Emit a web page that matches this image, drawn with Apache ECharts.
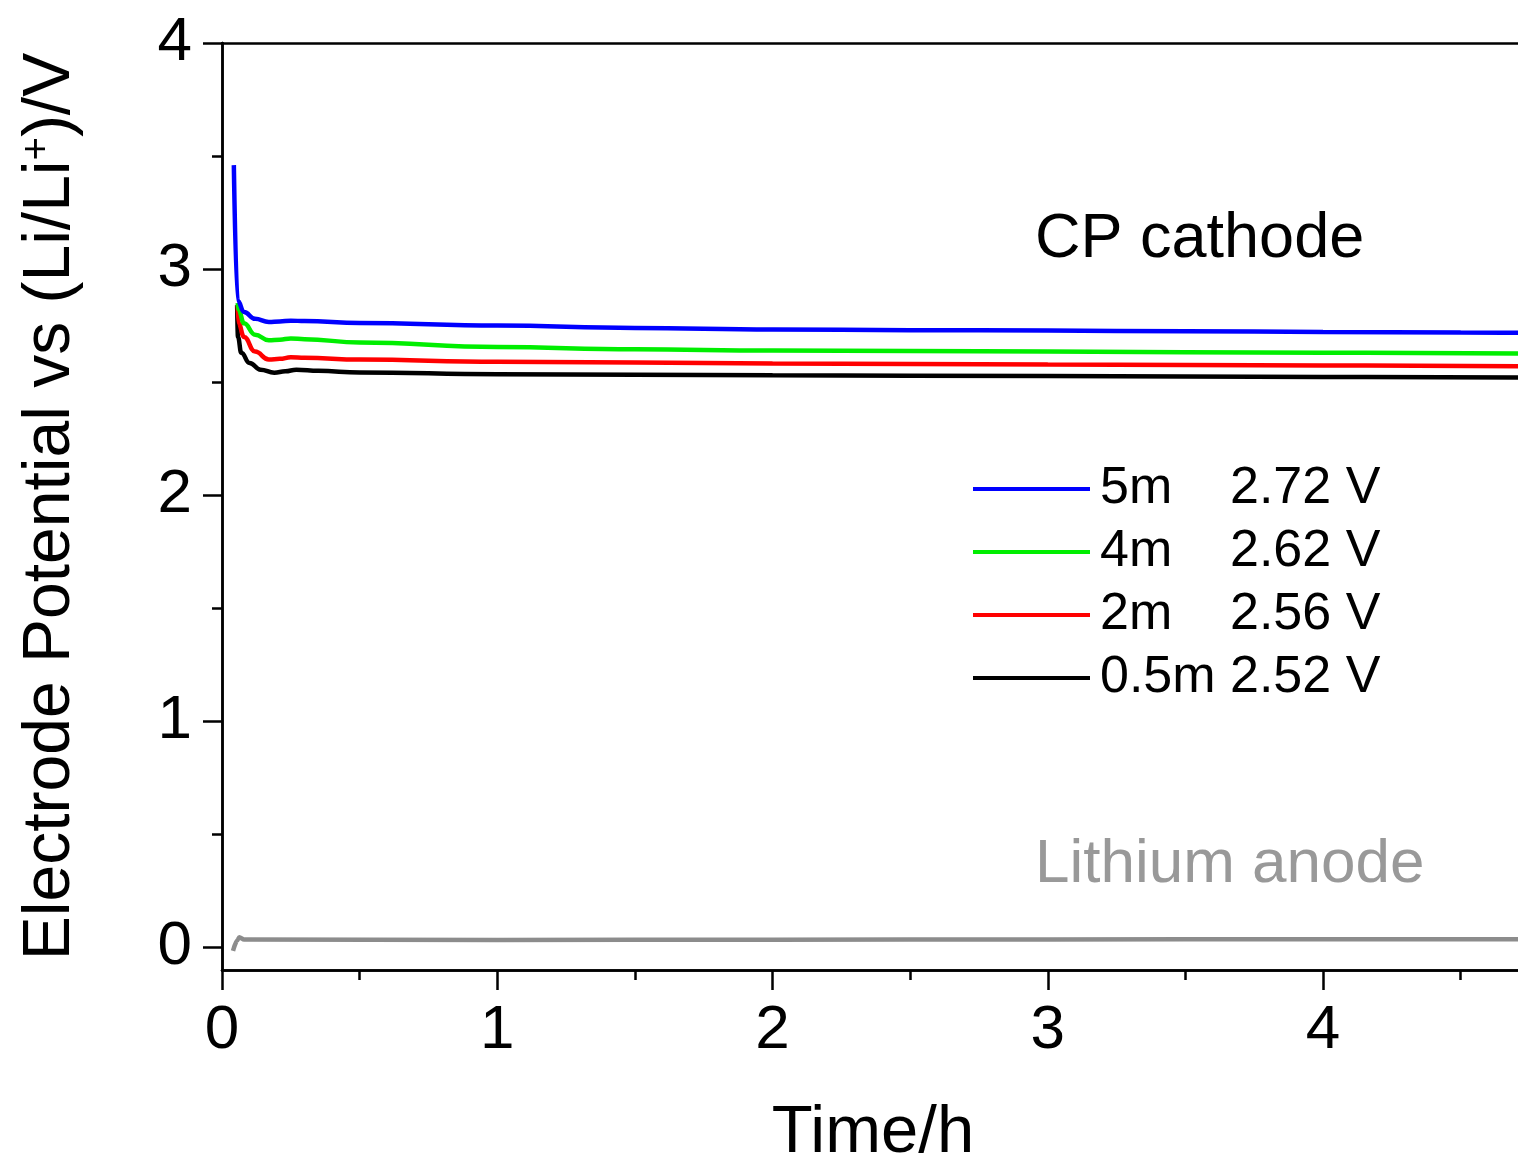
<!DOCTYPE html>
<html>
<head>
<meta charset="utf-8">
<script src="https://cdn.jsdelivr.net/npm/echarts@6/dist/echarts.min.js"></script>
<style>
html,body{margin:0;padding:0;background:#fff;}
#chart{width:1518px;height:1166px;}
</style>
</head>
<body>
<div id="chart"></div>
<script>
// ---- data ----
const seriesNames = ['5m', '4m', '2m', '0.5m'];
const plateauLabels = ['2.72 V', '2.62 V', '2.56 V', '2.52 V'];
const seriesColors = ['#0000ff', '#00ee00', '#ff0000', '#000000'];

const t5m = [0.043, 0.057, 0.08, 0.12, 0.17, 0.21, 0.25, 0.3, 0.5, 1, 1.5, 2, 2.5, 3, 3.5, 4, 4.5, 4.73];
const v5m = [3.46, 2.86, 2.81, 2.78, 2.766, 2.768, 2.772, 2.77, 2.762, 2.75, 2.74, 2.733, 2.73, 2.728, 2.725, 2.722, 2.72, 2.718];

const t4m = [0.057, 0.06, 0.08, 0.12, 0.17, 0.21, 0.25, 0.3, 0.5, 1, 1.5, 2, 3, 4, 4.73];
const v4m = [2.85, 2.82, 2.76, 2.71, 2.685, 2.688, 2.693, 2.69, 2.675, 2.655, 2.645, 2.64, 2.635, 2.63, 2.627];

const t2m = [0.057, 0.06, 0.08, 0.12, 0.17, 0.21, 0.25, 0.3, 0.5, 1, 2, 3, 4, 4.73];
const v2m = [2.84, 2.76, 2.70, 2.635, 2.60, 2.603, 2.61, 2.608, 2.60, 2.59, 2.583, 2.578, 2.574, 2.57];

const t05m = [0.055, 0.058, 0.07, 0.10, 0.14, 0.19, 0.23, 0.27, 0.35, 0.5, 1, 2, 3, 4, 4.73];
const v05m = [2.84, 2.70, 2.63, 2.585, 2.555, 2.542, 2.548, 2.555, 2.55, 2.543, 2.535, 2.53, 2.527, 2.523, 2.52];

const tLi = [0.04, 0.055, 0.063, 0.08, 1, 2, 3, 4, 4.73];
const vLi = [-0.015, 0.03, 0.045, 0.035, 0.033, 0.034, 0.035, 0.036, 0.036];

const xMajorTicks = [0, 1, 2, 3, 4];
const xMinorTicks = [0.5, 1.5, 2.5, 3.5, 4.5];
const yMajorTicks = [0, 1, 2, 3, 4];
const yMinorTicks = [0.5, 1.5, 2.5, 3.5];

const xMin = 0, xMax = 4.73, yMin = -0.1, yMax = 4;

// ---- chart ----
const FONT = 'Liberation Sans, Arial, sans-serif';
const zip = (a, b) => a.map((x, i) => [x, b[i]]);
const curves = [zip(t5m, v5m), zip(t4m, v4m), zip(t2m, v2m), zip(t05m, v05m)];

const axisLine = { show: true, onZero: false, lineStyle: { color: '#000', width: 2.5 } };

const series = curves.map((d, i) => ({
  name: seriesNames[i],
  type: 'line',
  data: d,
  symbol: 'none',
  smooth: 0.45,
  smoothMonotone: 'x',
  z: 10 - i,
  lineStyle: { color: seriesColors[i], width: 4.5 },
  itemStyle: { color: seriesColors[i] }
}));
series.push({
  name: 'Lithium',
  type: 'line',
  data: zip(tLi, vLi),
  symbol: 'none',
  smooth: 0.3,
  smoothMonotone: 'x',
  lineStyle: { color: '#8c8c8c', width: 4.5 },
  itemStyle: { color: '#8c8c8c' }
});

const chart = echarts.init(document.getElementById('chart'));
chart.setOption({
  animation: false,
  backgroundColor: '#fff',
  grid: { left: 222, top: 43, bottom: 196, right: -6, containLabel: false, outerBoundsMode: 'none' },
  xAxis: [
    {
      type: 'value', min: xMin, max: xMax, position: 'bottom',
      axisLine: axisLine,
      axisTick: { show: true, inside: false, length: 20, lineStyle: { color: '#000', width: 2.5 }, customValues: xMajorTicks },
      axisLabel: { show: true, customValues: xMajorTicks, fontSize: 62, fontFamily: FONT, color: '#000', margin: 30 },
      splitLine: { show: false },
      name: 'Time/h', nameLocation: 'middle', nameGap: 130,
      nameTextStyle: { fontSize: 67, fontFamily: FONT, color: '#000' }
    },
    {
      type: 'value', min: xMin, max: xMax, position: 'bottom',
      axisLine: axisLine,
      axisTick: { show: true, inside: false, length: 10, lineStyle: { color: '#000', width: 2.5 }, customValues: xMinorTicks },
      axisLabel: { show: false },
      splitLine: { show: false }
    },
    {
      type: 'value', min: xMin, max: xMax, position: 'top',
      axisLine: axisLine,
      axisTick: { show: false },
      axisLabel: { show: false },
      splitLine: { show: false }
    }
  ],
  yAxis: [
    {
      type: 'value', min: yMin, max: yMax, position: 'left',
      axisLine: axisLine,
      axisTick: { show: true, inside: false, length: 19, lineStyle: { color: '#000', width: 2.5 }, customValues: yMajorTicks },
      axisLabel: { show: true, customValues: yMajorTicks, fontSize: 62, fontFamily: FONT, color: '#000', margin: 30 },
      splitLine: { show: false },
      name: 'Electrode Potential vs (Li/Li{sup|+})/V',
      nameLocation: 'middle', nameGap: 138, nameRotate: 90,
      nameTextStyle: {
        fontSize: 66, fontFamily: FONT, color: '#000',
        rich: { sup: { fontSize: 40, fontFamily: FONT, color: '#000', verticalAlign: 'top', lineHeight: 46 } }
      }
    },
    {
      type: 'value', min: yMin, max: yMax, position: 'left',
      axisLine: axisLine,
      axisTick: { show: true, inside: false, length: 10, lineStyle: { color: '#000', width: 2.5 }, customValues: yMinorTicks },
      axisLabel: { show: false },
      splitLine: { show: false }
    }
  ],
  legend: {
    data: seriesNames,
    orient: 'vertical',
    left: 968, top: 458,
    itemWidth: 117, itemHeight: 4, itemGap: 11,
    icon: 'rect',
    formatter: name => '{a|' + name + '}{b|' + plateauLabels[seriesNames.indexOf(name)] + '}',
    textStyle: {
      fontSize: 52, fontFamily: FONT, color: '#000', padding: [0, 0, 0, 5],
      rich: {
        a: { fontSize: 52, fontFamily: FONT, color: '#000', width: 130, lineHeight: 52 },
        b: { fontSize: 52, fontFamily: FONT, color: '#000', lineHeight: 52 }
      }
    }
  },
  graphic: [
    { type: 'text', left: 1035, top: 208, style: { text: 'CP cathode', fontSize: 63, fontFamily: FONT, fill: '#000' } },
    { type: 'text', left: 1035, top: 834, style: { text: 'Lithium anode', fontSize: 62, fontFamily: FONT, fill: '#999999' } }
  ],
  series: series
});
</script>
</body>
</html>
